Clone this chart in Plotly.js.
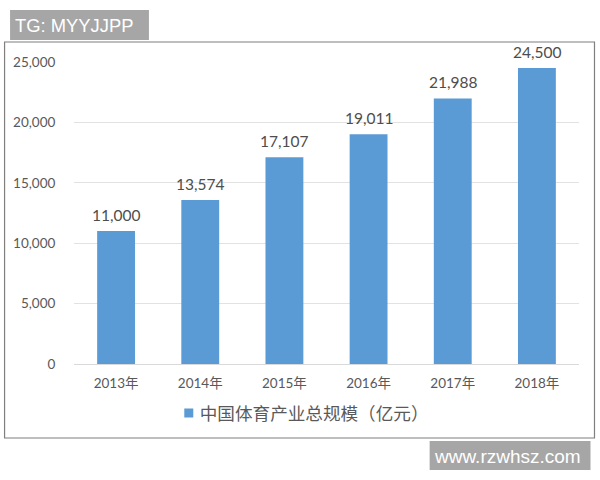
<!DOCTYPE html>
<html><head><meta charset="utf-8">
<script src="https://cdn.plot.ly/plotly-3.0.1.min.js"></script>
<style>html,body{margin:0;padding:0;background:#fff}#c{width:600px;height:480px}</style></head>
<body><div id="c"></div>
<script>
const categories = ['2013年','2014年','2015年','2016年','2017年','2018年'];
const values = [11000,13574,17107,19011,21988,24500];
const valueLabels = ['11,000','13,574','17,107','19,011','21,988','24,500'];
const seriesName = '中国体育产业总规模（亿元）';
const tickVals = [0,5000,10000,15000,20000,25000];
const tickText = ['0','5,000','10,000','15,000','20,000','25,000'];
const font = 'Lato, "Noto Sans CJK SC", sans-serif';
const L=74,R=579.5,T=62,B=364;
const px=x=>(x-L)/(R-L), py=y=>(B-y)/(B-T);
const rect=(x0,y0,x1,y1,o)=>Object.assign({type:'rect',xref:'paper',yref:'paper',x0:px(x0),x1:px(x1),y0:py(y1),y1:py(y0)},o);
const dataLabels = categories.map((c,i)=>({xref:'x',yref:'y',x:c,y:values[i],yanchor:'middle',yshift:16,showarrow:false,text:valueLabels[i],font:{family:font,size:15.5,color:'#4d4d4d'}}));
Plotly.newPlot('c',[{
  type:'bar',x:categories,y:values,name:seriesName,width:0.45,
  marker:{color:'#5b9bd5'},showlegend:true,hoverinfo:'skip'
}],{
  width:600,height:480,paper_bgcolor:'#fff',plot_bgcolor:'#fff',
  margin:{l:L,r:600-R,t:T,b:480-B},
  bargap:0.55,showlegend:true,
  xaxis:{type:'category',tickfont:{family:font,size:13.5,color:'#595959'},showline:true,linecolor:'#d9d9d9',linewidth:1,ticks:'outside',ticklen:7,tickcolor:'rgba(0,0,0,0)',automargin:false},
  yaxis:{range:[0,25000],tickvals:tickVals,ticktext:tickText,tickfont:{family:font,size:13.5,color:'#595959'},gridcolor:'#e2e2e2',gridwidth:1,zeroline:false,ticks:'outside',ticklen:15,tickcolor:'rgba(0,0,0,0)',automargin:false},
  legend:{orientation:'h',xref:'paper',yref:'paper',x:px(297),xanchor:'center',y:py(413),yanchor:'middle',font:{family:font,size:17.6,color:'#595959'},itemwidth:30,bgcolor:'rgba(0,0,0,0)'},
  shapes:[
    rect(4.5,42,595,438,{line:{color:'#7f7f7f',width:1.2},layer:'below'}),
    rect(10,10,149,40,{line:{width:0},fillcolor:'#a6a6a6',layer:'above'}),
    rect(430,441,591,470,{line:{width:0},fillcolor:'#a6a6a6',layer:'above'})
  ],
  annotations:dataLabels.concat([
    {xref:'paper',yref:'paper',x:px(13),y:py(25.5),xanchor:'left',yanchor:'middle',showarrow:false,text:'TG: MYYJJPP',font:{family:'"Liberation Sans",Arial,sans-serif',size:18.4,color:'#fff'}},
    {xref:'paper',yref:'paper',x:px(432),y:py(456),xanchor:'left',yanchor:'middle',showarrow:false,text:'www.rzwhsz.com',font:{family:'"Liberation Sans",Arial,sans-serif',size:19,color:'#fff'}}
  ])
},{displayModeBar:false,staticPlot:true}).then(gd=>{
  // legend swatch: smaller and closer to its text, as in the reference
  gd.querySelectorAll('.legend .legendsymbols').forEach(g=>g.setAttribute('transform','translate(9,0)'));
  gd.querySelectorAll('.legend .legendbar path, .legend .legendpoints path').forEach(p=>p.setAttribute('d','M4.5,4.5H-4.5V-4.5H4.5Z'));
});
</script></body></html>
